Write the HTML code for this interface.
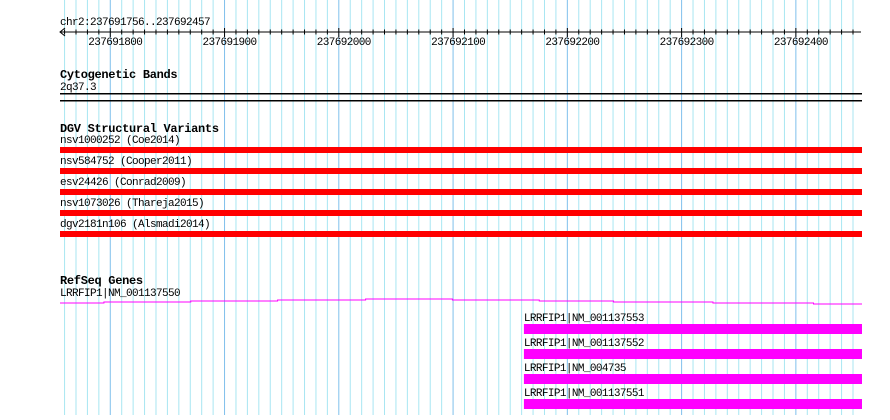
<!DOCTYPE html>
<html><head><meta charset="utf-8"><style>
body{margin:0;background:#fff;}
svg text{font-family:"Liberation Mono",monospace;font-size:11px;letter-spacing:-0.6px;fill:#000;}
svg text.h{font-weight:bold;font-size:12px;letter-spacing:-0.3px;}
</style></head><body>
<svg id="c" width="890" height="415" xmlns="http://www.w3.org/2000/svg">
<g id="grid"></g>
<g id="ruler"></g>
<text x="60" y="25">chr2:237691756..237692457</text>
<text class="h" x="60" y="78">Cytogenetic Bands</text>
<text x="60" y="90">2q37.3</text>
<rect x="60" y="93" width="802" height="1.5" fill="#000"/>
<rect x="60" y="100" width="802" height="1.5" fill="#000"/>
<text class="h" x="60" y="132">DGV Structural Variants</text>
<g id="dgv"></g>
<text class="h" x="60" y="284">RefSeq Genes</text>
<g id="genes"></g>
</svg>
<script>
const startBp=237691756, endBp=237692457;
const majorTicks=[237691800,237691900,237692000,237692100,237692200,237692300,237692400];
const dgvNames=["nsv1000252 (Coe2014)","nsv584752 (Cooper2011)","esv24426 (Conrad2009)","nsv1073026 (Thareja2015)","dgv2181n106 (Alsmadi2014)"];
const dgvStarts=[237691756,237691756,237691756,237691756,237691756];
const dgvEnds=[237692457,237692457,237692457,237692457,237692457];
const geneNames=["LRRFIP1|NM_001137553","LRRFIP1|NM_001137552","LRRFIP1|NM_004735","LRRFIP1|NM_001137551"];
const geneStarts=[237692162,237692162,237692162,237692162];
const geneEnds=[237692457,237692457,237692457,237692457];
const longStepStarts=[237691756,237691794,237691870,237691946,237692023,237692099,237692175,237692240,237692327,237692415];
const longStepLevels=[3,2,1,0,-1,0,1,2,3,4];
const X0=60,X1=861;
const x=bp=>X0+(bp-startBp)*(X1-X0)/(endBp-startBp);
const NS="http://www.w3.org/2000/svg";
function mk(p,t,a){const e=document.createElementNS(NS,t);for(const k in a)e.setAttribute(k,a[k]);p.appendChild(e);return e;}
const grid=document.getElementById('grid'),ruler=document.getElementById('ruler');
for(let b=Math.ceil(startBp/10)*10;b<=endBp;b+=10){
  const major=b%100===0;
  const l=mk(grid,'line',{x1:x(b),x2:x(b),y1:0,y2:415,stroke:major?'#80c0ec':'#a8e6f2','stroke-width':1});
  
  
  const t=mk(ruler,'line',{x1:x(b),x2:x(b),y1:major?28:29.5,y2:major?37:34.5,stroke:'#000'});
  
  
}
mk(ruler,'line',{x1:X0,x2:X1,y1:32,y2:32,stroke:'#000'});
mk(ruler,'path',{d:`M${X0+5},28 L${X0},32 L${X0+5},36`,stroke:'#000',fill:'none'});
majorTicks.forEach(b=>{const t=mk(ruler,'text',{x:x(b)+5,y:45,'text-anchor':'middle'});t.textContent=b;
  
  });
const dgv=document.getElementById('dgv');
dgvNames.forEach((n,i)=>{const y0=143+i*21;
  const t=mk(dgv,'text',{x:60,y:y0});t.textContent=n;
  
  
  const r=mk(dgv,'rect',{x:x(dgvStarts[i]),y:y0+4,width:x(dgvEnds[i])-x(dgvStarts[i])+1,height:6,fill:'#ff0000'});
  
  });
const genes=document.getElementById('genes');
const lt=mk(genes,'text',{x:60,y:296});lt.textContent="LRRFIP1|NM_001137550";


longStepStarts.forEach((s,i)=>{const e=i<longStepStarts.length-1?longStepStarts[i+1]:endBp;
  const l=mk(genes,'line',{x1:x(s),x2:x(e)+1,y1:300+longStepLevels[i],y2:300+longStepLevels[i],stroke:'#ff00ff','stroke-width':1});
  
  });
geneNames.forEach((n,i)=>{const y0=321+i*25;
  const t=mk(genes,'text',{x:x(geneStarts[i]),y:y0});t.textContent=n;
  
  
  const r=mk(genes,'rect',{x:x(geneStarts[i]),y:y0+3,width:x(geneEnds[i])-x(geneStarts[i])+1,height:10,fill:'#ff00ff'});
  
  });
</script>
</body></html>
